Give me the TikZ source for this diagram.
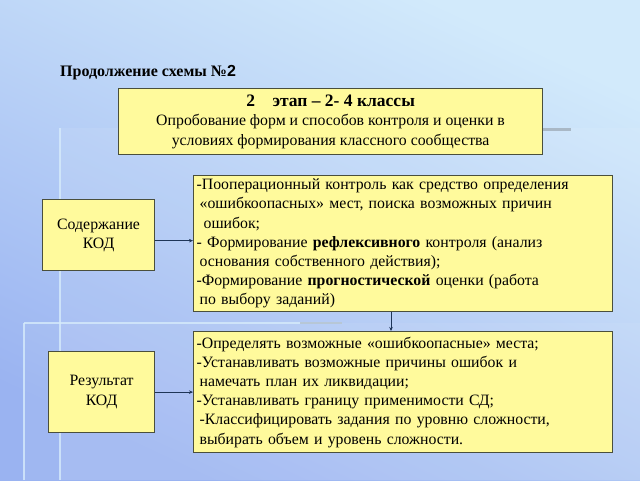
\documentclass[tikz,border=0pt]{standalone}
\usepackage{fontspec}
\setmainfont{Liberation Serif}
\newfontfamily\sansbold{Liberation Sans}
\usetikzlibrary{arrows.meta,calc}
\definecolor{boxfill}{HTML}{FFFA9C}
\definecolor{boxline}{HTML}{4A4F3C}
\definecolor{bgtop}{HTML}{D2EAFB}
\definecolor{bgbot}{HTML}{9AB3F1}
\definecolor{arrowc}{HTML}{1E3557}
\definecolor{stripe}{HTML}{D6EBFB}
\definecolor{graybar}{HTML}{A9B8C6}
\begin{document}
\begin{tikzpicture}[x=1pt,y=-1pt,
  box/.style={draw=boxline, line width=1.2pt, fill=boxfill, inner sep=0pt},
  txt/.style={font=\fontsize{15.8}{19.2}\selectfont},
  arr/.style={draw=arrowc, line width=0.9pt, -{Stealth[length=4pt,width=3.5pt]}}]
\useasboundingbox (0,0) rectangle (640,480);
\shade[top color=bgtop, bottom color=bgbot, shading angle=-25] (0,0) rectangle (640,480);
% decorative panels
\fill[white, opacity=0.08] (60,128) rectangle (640,480);
\fill[white, opacity=0.06] (24,323) rectangle (640,480);
\draw[stripe, line width=2.5pt, opacity=0.8] (60,128) -- (60,480);
\draw[stripe, line width=2.5pt, opacity=0.8] (24,323) -- (24,480);
\draw[stripe, line width=2.5pt, opacity=0.8] (24,323) -- (300,323);
\draw[graybar!70!stripe, line width=2.5pt] (300,323) -- (342,323);
\draw[graybar, line width=3pt] (520,129) -- (571,129);
% title
\node[font=\fontsize{16}{18}\selectfont\bfseries, anchor=west, inner sep=0pt] (title) at (60,73) {Продолжение схемы №{\sansbold\bfseries 2}};
% header box
\node[box, font=\fontsize{15.8}{19.5}\selectfont, minimum width=424pt, minimum height=66pt, anchor=north west, align=center] (head) at (118,88)
  {{\fontsize{17.5}{19.5}\selectfont\bfseries 2\quad этап – 2- 4 классы}\\
   Опробование форм и способов контроля и оценки в\\
   условиях формирования классного сообщества};
% left boxes
\node[box, txt, minimum width=112pt, minimum height=71pt, anchor=north west, align=center] (sod) at (42,199)
  {Содержание\\КОД};
\node[box, txt, minimum width=106pt, minimum height=81pt, anchor=north west, align=center] (res) at (48,351)
  {Результат\\КОД};
% right boxes
\node[box, txt, minimum width=419pt, minimum height=136pt, anchor=north west, align=left, text width=413pt, inner xsep=3pt] (c1) at (193,175)
  {-Пооперационный контроль как средство определения\\
   \hspace{3pt}«ошибкоопасных» мест, поиска возможных причин\\
   \hspace{7pt}ошибок;\\
   - Формирование \textbf{рефлексивного} контроля (анализ\\
   \hspace{3pt}основания собственного действия);\\
   -Формирование \textbf{прогностической} оценки (работа\\
   \hspace{3pt}по выбору заданий)};
\node[box, txt, minimum width=419pt, minimum height=121pt, anchor=north west, align=left, text width=413pt, inner xsep=3pt] (c2) at (193,331)
  {-Определять возможные «ошибкоопасные» места;\\
   -Устанавливать возможные причины ошибок и\\
   \hspace{3pt}намечать план их ликвидации;\\
   -Устанавливать границу применимости СД;\\
   \hspace{3pt}-Классифицировать задания по уровню сложности,\\
   \hspace{3pt}выбирать объем и уровень сложности.};
% connectors
\coordinate (vx) at (391,0);
\coordinate (a1) at ($(sod.north east)!0.577!(sod.south east)$);
\draw[arr] (a1) -- (a1 -| c1.west);
\draw[arr] (res.east) -- (res.east -| c2.west);
\draw[arr] (c1.south -| vx) -- (c2.north -| vx);
\end{tikzpicture}
\end{document}
